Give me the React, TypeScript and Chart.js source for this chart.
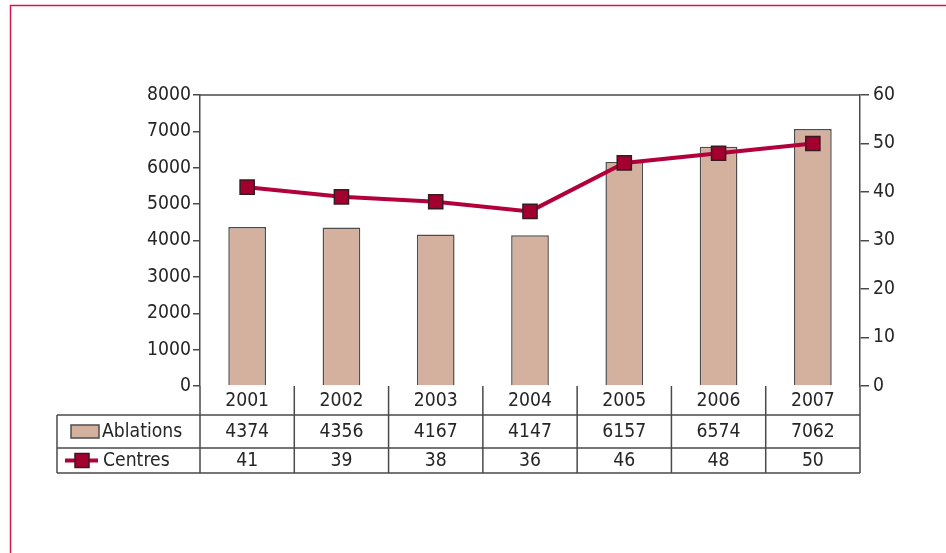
import React, { useEffect, useRef } from "react";
import { Chart, registerables } from "chart.js";

Chart.register(...registerables);

const years = ["2001", "2002", "2003", "2004", "2005", "2006", "2007"];
const ablations = [4374, 4356, 4167, 4147, 6157, 6574, 7062];
const centres = [41, 39, 38, 36, 46, 48, 50];
const seriesNames = ["Ablations", "Centres"];

const FONT = '"DejaVu Sans Condensed", "Liberation Sans Narrow", Arial, sans-serif';
const FS = 19.2;
const TEXT = "#262626";
const AXIS = "#4a4a4a";
const BAR_FILL = "#d3b19e";
const BAR_BORDER = "#4d4d4d";
const LINE = "#b2003a";
const MARK_FILL = "#a3002f";
const MARK_BORDER = "#3a1a22";

const tablePlugin = {
  id: "tablePlugin",
  beforeDraw(chart: any) {
    const ctx = chart.ctx;
    ctx.save();
    ctx.fillStyle = "#ffffff";
    ctx.fillRect(0, 0, chart.width, chart.height);
    ctx.strokeStyle = "#d2174a";
    ctx.lineWidth = 1.5;
    ctx.beginPath();
    ctx.moveTo(10.5, chart.height + 2);
    ctx.lineTo(10.5, 5.5);
    ctx.lineTo(chart.width + 2, 5.5);
    ctx.stroke();
    ctx.restore();
  },
  afterDraw(chart: any) {
    const ctx = chart.ctx;
    const area = chart.chartArea;
    const xs = chart.scales.x;
    const L = area.left;
    const R = area.right;
    const top = area.bottom;
    const r1 = top + 29;
    const r2 = r1 + 33;
    const r3 = r2 + 25;
    const legendLeft = 57;
    ctx.save();
    ctx.strokeStyle = AXIS;
    ctx.lineWidth = 1.5;
    ctx.beginPath();
    ctx.moveTo(L, area.top);
    ctx.lineTo(R, area.top);
    ctx.stroke();
    ctx.beginPath();
    ctx.moveTo(L, top);
    ctx.lineTo(L, r3);
    ctx.moveTo(R, top);
    ctx.lineTo(R, r3);
    ctx.moveTo(legendLeft, r1);
    ctx.lineTo(legendLeft, r3);
    [r1, r2, r3].forEach((y) => {
      ctx.moveTo(legendLeft, y);
      ctx.lineTo(R, y);
    });
    for (let i = 1; i < years.length; i++) {
      const bx = (xs.getPixelForValue(i - 1) + xs.getPixelForValue(i)) / 2;
      ctx.moveTo(bx, top);
      ctx.lineTo(bx, r3);
    }
    ctx.stroke();

    ctx.fillStyle = TEXT;
    ctx.font = `${FS}px ${FONT}`;
    ctx.textAlign = "center";
    ctx.textBaseline = "middle";
    years.forEach((yr, i) => {
      const cx = xs.getPixelForValue(i);
      ctx.fillText(yr, cx, (top + r1) / 2 + 1);
      ctx.fillText(String(ablations[i]), cx, (r1 + r2) / 2 + 1);
      ctx.fillText(String(centres[i]), cx, (r2 + r3) / 2 + 1);
    });

    ctx.textAlign = "left";
    ctx.fillStyle = BAR_FILL;
    ctx.fillRect(71, r1 + 10, 28, 13);
    ctx.strokeStyle = BAR_BORDER;
    ctx.lineWidth = 1.5;
    ctx.strokeRect(71, r1 + 10, 28, 13);
    ctx.fillStyle = TEXT;
    ctx.fillText(seriesNames[0], 102, (r1 + r2) / 2 + 1);
    const ly = (r2 + r3) / 2;
    ctx.strokeStyle = LINE;
    ctx.lineWidth = 4;
    ctx.beginPath();
    ctx.moveTo(65, ly);
    ctx.lineTo(98, ly);
    ctx.stroke();
    ctx.fillStyle = MARK_FILL;
    ctx.fillRect(75, ly - 7, 14, 14);
    ctx.strokeStyle = MARK_BORDER;
    ctx.lineWidth = 1.5;
    ctx.strokeRect(75, ly - 7, 14, 14);
    ctx.fillStyle = TEXT;
    ctx.fillText(seriesNames[1], 103, ly + 1);
    ctx.restore();
  },
};

export default function App() {
  const ref = useRef<HTMLCanvasElement | null>(null);
  useEffect(() => {
    if (!ref.current) return;
    const chart = new Chart(ref.current, {
      type: "bar",
      data: {
        labels: years,
        datasets: [
          {
            type: "line",
            label: seriesNames[1],
            data: centres,
            yAxisID: "y1",
            borderColor: LINE,
            borderWidth: 4,
            pointStyle: "rect",
            pointRadius: 10,
            pointBackgroundColor: MARK_FILL,
            pointBorderColor: MARK_BORDER,
            pointBorderWidth: 1.5,
            tension: 0,
            order: 0,
          } as any,
          {
            type: "bar",
            label: seriesNames[0],
            data: ablations,
            yAxisID: "y",
            backgroundColor: BAR_FILL,
            borderColor: BAR_BORDER,
            borderWidth: 1.5,
            categoryPercentage: 1,
            barPercentage: 0.4,
            order: 1,
          },
        ],
      },
      options: {
        responsive: false,
        animation: false,
        layout: { padding: { top: 95, bottom: 167, left: 0, right: 0 } },
        plugins: { legend: { display: false }, tooltip: { enabled: false } },
        scales: {
          x: {
            display: false,
            offset: true,
          },
          y: {
            position: "left",
            min: 0,
            max: 8000,
            ticks: {
              stepSize: 1000,
              color: TEXT,
              font: { family: FONT, size: FS },
              padding: 2,
              callback: (v: any) => String(v),
            },
            grid: {
              drawOnChartArea: false,
              drawTicks: true,
              tickLength: 7,
              color: AXIS,
              lineWidth: 1.5,
            },
            border: { display: true, color: AXIS, width: 1.5 },
            afterFit: (s: any) => {
              s.width = 200;
            },
          },
          y1: {
            position: "right",
            min: 0,
            max: 60,
            ticks: {
              stepSize: 10,
              color: TEXT,
              font: { family: FONT, size: FS },
              padding: 4,
              callback: (v: any) => String(v),
            },
            grid: {
              drawOnChartArea: false,
              drawTicks: true,
              tickLength: 9,
              color: AXIS,
              lineWidth: 1.5,
            },
            border: { display: true, color: AXIS, width: 1.5 },
            afterFit: (s: any) => {
              s.width = 86;
            },
          },
        },
      },
      plugins: [tablePlugin],
    });
    return () => chart.destroy();
  }, []);
  return (
    <div style={{ position: "absolute", left: 0, top: 0, width: 946, height: 553 }}>
      <canvas ref={ref} width={946} height={553} style={{ width: 946, height: 553 }} />
    </div>
  );
}
